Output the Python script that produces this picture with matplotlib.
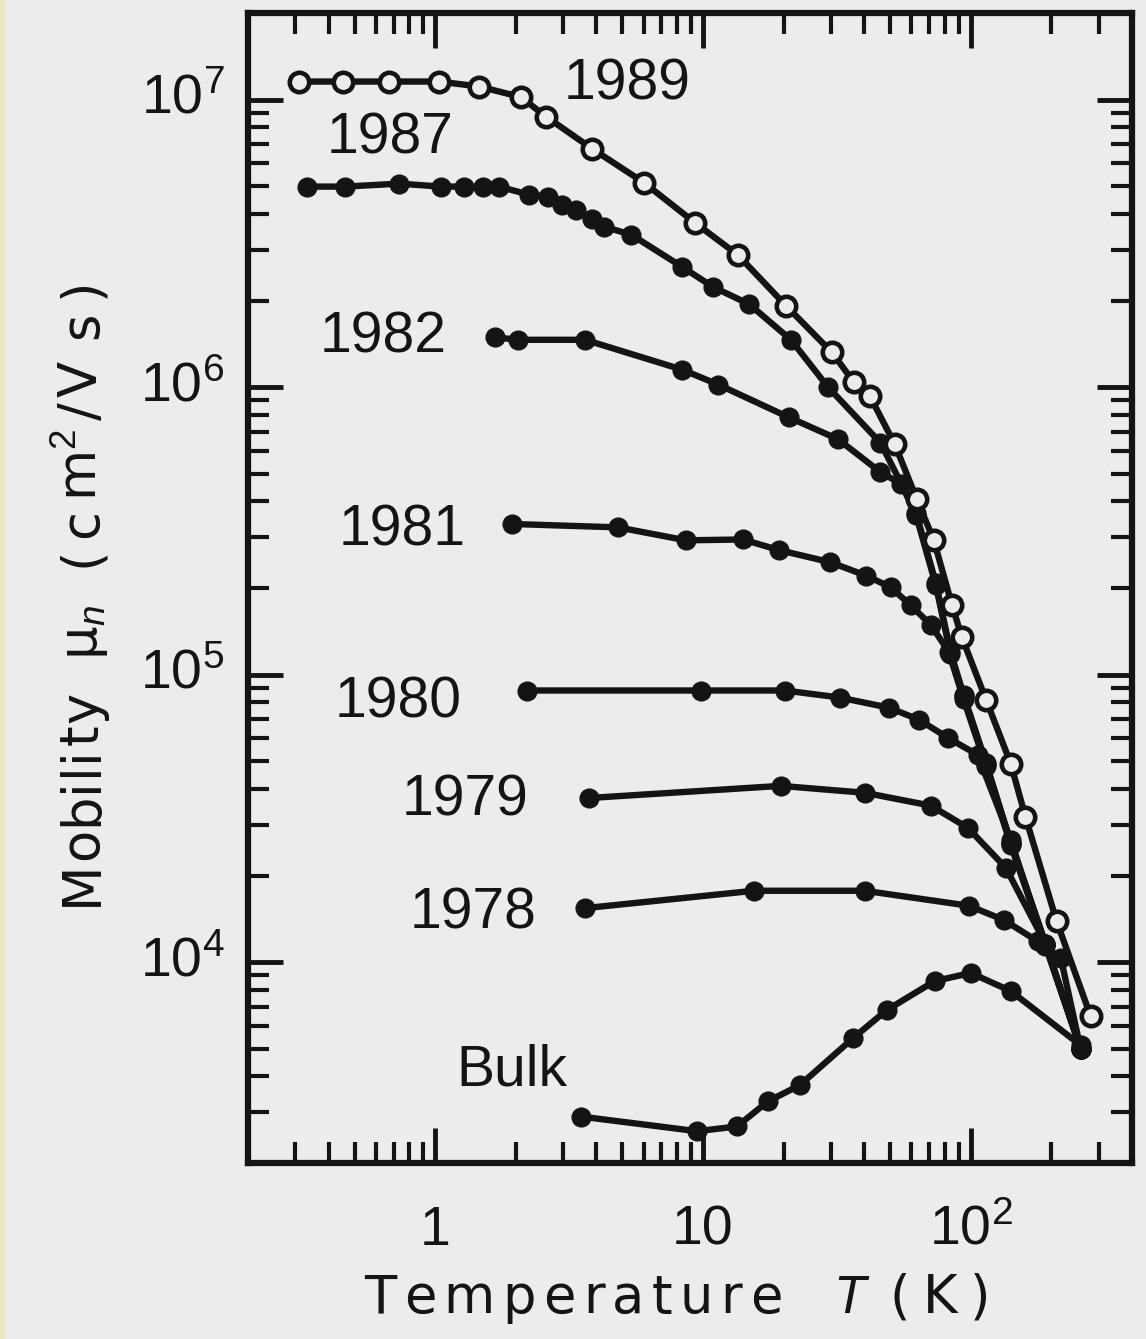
import matplotlib
matplotlib.use("Agg")
import matplotlib.pyplot as plt
from matplotlib.ticker import FixedLocator, FixedFormatter, LogLocator, NullFormatter
from matplotlib.patches import Rectangle
from matplotlib.transforms import IdentityTransform

plt.rcParams['font.family'] = ['Liberation Sans', 'DejaVu Sans']
plt.rcParams['mathtext.fontset'] = 'custom'
plt.rcParams['mathtext.rm'] = 'Liberation Sans'
plt.rcParams['mathtext.it'] = 'Liberation Sans:italic'

# electron mobility (cm^2/Vs) vs temperature (K)
t_1989 = [0.311, 0.454, 0.673, 1.035, 1.46, 2.09, 2.59, 3.85, 6.02, 9.33, 13.5, 20.4,
          30.3, 36.6, 42.0, 52.0, 62.9, 72.8, 85.0, 92.6, 114, 141, 160, 209, 280]
mu_1989 = [1.155e7, 1.155e7, 1.155e7, 1.155e7, 1.11e7, 1.02e7, 8.73e6, 6.75e6, 5.14e6,
           3.73e6, 2.88e6, 1.92e6, 1.32e6, 1.04e6, 9.3e5, 6.33e5, 4.07e5, 2.93e5, 1.75e5,
           1.35e5, 8.18e4, 4.9e4, 3.2e4, 1.39e4, 6.5e3]

t_1987 = [0.333, 0.462, 0.734, 1.05, 1.28, 1.51, 1.73, 2.24, 2.64, 2.98, 3.36, 3.85, 4.27,
          5.39, 8.35, 10.9, 14.9, 21.3, 29.3, 46, 62.4, 74, 84, 94, 114, 141, 190, 257]
mu_1987 = [4.98e6, 4.98e6, 5.1e6, 4.98e6, 4.98e6, 4.98e6, 4.98e6, 4.67e6, 4.59e6, 4.31e6,
           4.14e6, 3.85e6, 3.61e6, 3.39e6, 2.62e6, 2.23e6, 1.94e6, 1.46e6, 1.0e6, 6.4e5,
           3.66e5, 2.09e5, 1.2e5, 8.5e4, 4.93e4, 2.6e4, 1.16e4, 5.0e3]

t_1982 = [1.67, 2.04, 3.63, 8.35, 11.4, 20.9, 31.9, 46, 55, 62.4, 74, 84, 94, 114, 141, 190, 257]
mu_1982 = [1.49e6, 1.46e6, 1.46e6, 1.15e6, 1.02e6, 7.85e5, 6.59e5, 5.06e5, 4.6e5, 3.6e5,
           2.05e5, 1.18e5, 8.4e4, 4.9e4, 2.6e4, 1.16e4, 5.0e3]

t_1981 = [1.94, 4.82, 8.64, 14.1, 19.2, 29.8, 40.6, 50.3, 59.7, 70.9, 82.7, 94, 114, 141, 190, 257]
mu_1981 = [3.34e5, 3.25e5, 2.93e5, 2.95e5, 2.71e5, 2.46e5, 2.21e5, 2.01e5, 1.74e5, 1.49e5,
           1.2e5, 8.2e4, 4.8e4, 2.55e4, 1.15e4, 5.0e3]

t_1980 = [2.2, 9.83, 20.2, 32.4, 49.4, 64, 82, 106, 141, 190, 257]
mu_1980 = [8.8e4, 8.8e4, 8.8e4, 8.32e4, 7.67e4, 6.97e4, 6.03e4, 5.26e4, 2.66e4, 1.14e4, 5.0e3]

t_1979 = [3.75, 19.5, 40.2, 70.9, 97.5, 135, 190, 257]
mu_1979 = [3.72e4, 4.1e4, 3.88e4, 3.5e4, 2.93e4, 2.13e4, 1.16e4, 5.0e3]

t_1978 = [3.63, 15.5, 40.2, 98.3, 133, 178, 217, 257]
mu_1978 = [1.54e4, 1.77e4, 1.77e4, 1.57e4, 1.4e4, 1.18e4, 1.03e4, 5.0e3]

t_bulk = [3.51, 9.5, 13.4, 17.5, 23.0, 36.3, 48.6, 73.4, 100, 141, 257]
mu_bulk = [2.9e3, 2.58e3, 2.68e3, 3.28e3, 3.73e3, 5.43e3, 6.81e3, 8.59e3, 9.16e3, 7.93e3, 5.14e3]

filled = [("1987", t_1987, mu_1987), ("1982", t_1982, mu_1982), ("1981", t_1981, mu_1981),
          ("1980", t_1980, mu_1980), ("1979", t_1979, mu_1979), ("1978", t_1978, mu_1978),
          ("Bulk", t_bulk, mu_bulk)]

# curve labels: (text, left x, baseline y)
labels = [("1989", 3.03, 1.0e7), ("1987", 0.392, 6.49e6), ("1982", 0.369, 1.32e6),
          ("1981", 0.435, 2.81e5), ("1980", 0.42, 7.08e4), ("1979", 0.747, 3.23e4),
          ("1978", 0.80, 1.31e4), ("Bulk", 1.198, 3.72e3)]

x_ticks = [1, 10, 100]
x_ticklabels = ["1", "10", r"$10^2$"]
y_ticks = [1e4, 1e5, 1e6, 1e7]
y_ticklabels = [r"$10^4$", r"$10^5$", r"$10^6$", r"$10^7$"]

# axis titles, split in groups of letters and the pixel span each group covers
xlabel_groups = [(list("Temperature"), 364, 782), (["$T$"], 833, 866), (["(", "K", ")"], 890, 990)]
ylabel_groups = [(list("Mobility"), 906, 692), (["μ$_n$"], 660, 589),
                 (["(", "c", "m$^2$", "/"], 567, 402), (["V"], 397, 357), (["s", ")"], 339, 277)]

W, H = 1146, 1339
bg = "#ececec"
ink = "#141414"
label_font = ["DejaVu Sans"]

fig = plt.figure(figsize=(W / 100, H / 100), dpi=100, facecolor=bg)
fig.patches.append(Rectangle((0, 0), 4 / W, 1, transform=fig.transFigure,
                             color="#efe5c2", zorder=0))
ax = fig.add_axes([248 / W, 1 - 1163 / H, 884 / W, 1150 / H])
ax.set_facecolor(bg)
ax.set_xscale("log")
ax.set_yscale("log")
ax.set_xlim(0.2, 400)
ax.set_ylim(2e3, 2e7)

for name, t, mu in filled:
    ax.plot(t, mu, "-o", color=ink, lw=4.6, ms=13.5, mfc=ink, mec=ink, zorder=3)
ax.plot(t_1989, mu_1989, "-o", color=ink, lw=4.6, ms=14, mfc=bg, mec=ink, mew=3.3, zorder=4)

for txt, x, y in labels:
    ax.text(x, y, txt, fontsize=41, ha="left", va="baseline", color=ink)

ax.xaxis.set_major_locator(FixedLocator(x_ticks))
ax.xaxis.set_major_formatter(FixedFormatter(x_ticklabels))
ax.xaxis.set_minor_locator(LogLocator(base=10, subs=range(2, 10), numticks=20))
ax.xaxis.set_minor_formatter(NullFormatter())
ax.yaxis.set_major_locator(FixedLocator(y_ticks))
ax.yaxis.set_major_formatter(FixedFormatter(y_ticklabels))
ax.yaxis.set_minor_locator(LogLocator(base=10, subs=range(2, 10), numticks=20))
ax.yaxis.set_minor_formatter(NullFormatter())

ax.tick_params(which="major", direction="in", length=25, width=3.5, top=True, right=True,
               labelsize=40, color=ink, labelcolor=ink)
ax.tick_params(which="minor", direction="in", length=15, width=3, top=True, right=True, color=ink)
ax.tick_params(axis="x", which="major", pad=59)
ax.tick_params(axis="y", which="major", pad=17)
plt.setp(ax.get_xticklabels(), va="baseline")
plt.setp(ax.get_yticklabels(), va="center")
for s in ax.spines.values():
    s.set_linewidth(4.5)
    s.set_color(ink)


def spread(groups, size, base, vertical=False):
    """draw each group piece by piece, spaced out to cover its pixel span (wide tracking)"""
    r = fig.canvas.get_renderer()
    for toks, a, b in groups:
        arts = []
        for tok in toks:
            if vertical:
                t = fig.text(0, 0, tok, fontsize=size, family=label_font, color=ink,
                             rotation=90, rotation_mode="anchor", ha="left", va="baseline",
                             transform=IdentityTransform())
            else:
                t = fig.text(0, 0, tok, fontsize=size, family=label_font, color=ink,
                             ha="left", va="baseline", transform=IdentityTransform())
            arts.append(t)
        sizes = []
        for t in arts:
            bb = t.get_window_extent(r)
            sizes.append(bb.height if vertical else bb.width)
        if vertical:
            start, span = H - a, a - b
        else:
            start, span = a, b - a
        gap = (span - sum(sizes)) / (len(arts) - 1) if len(arts) > 1 else 0
        pos = start
        for t, sz in zip(arts, sizes):
            if vertical:
                t.set_position((base, pos))
            else:
                t.set_position((pos, H - base))
            pos += sz + gap


spread(xlabel_groups, 38, 1313)
spread(ylabel_groups, 38, 97, vertical=True)

fig.savefig("out.png", dpi=100, facecolor=bg)
